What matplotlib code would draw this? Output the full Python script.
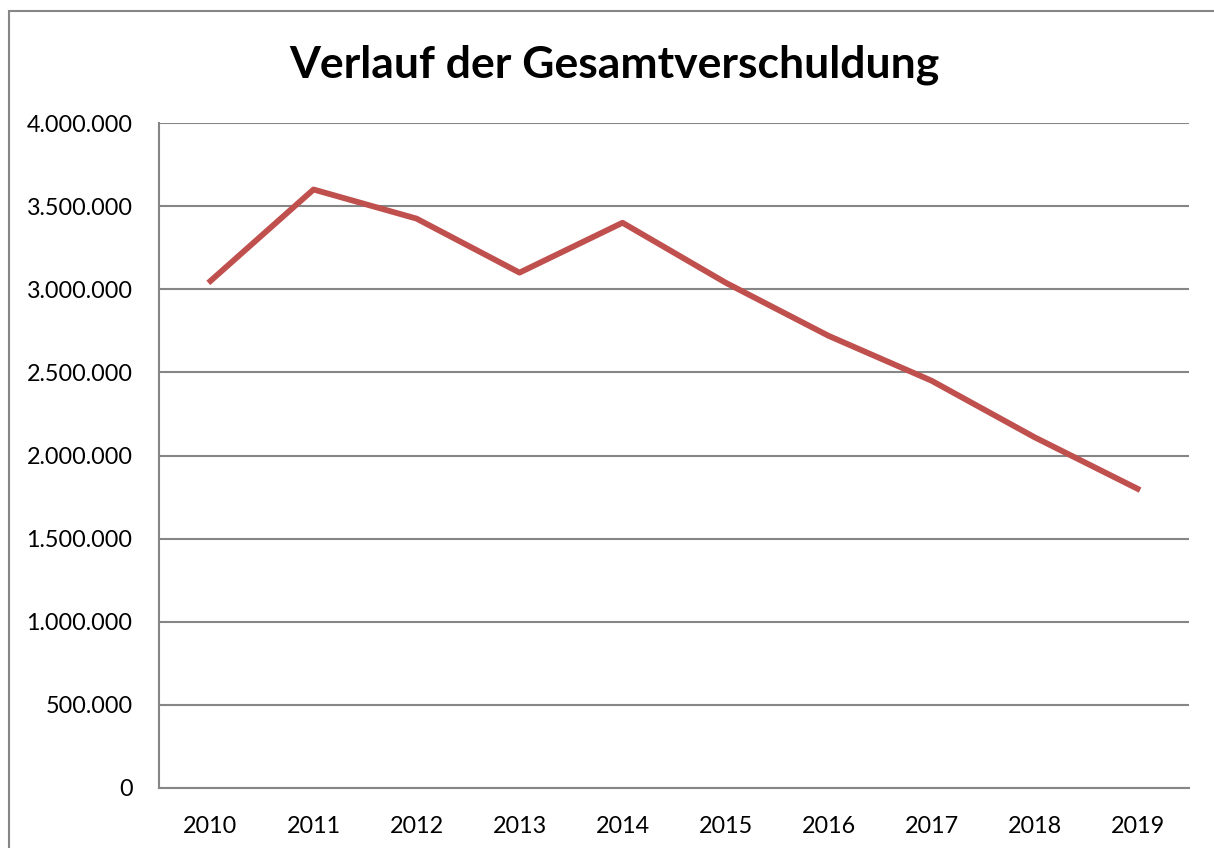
import matplotlib.pyplot as plt
from matplotlib.patches import Rectangle
from matplotlib.ticker import FuncFormatter

# Daten
jahre = ['2010', '2011', '2012', '2013', '2014', '2015', '2016', '2017', '2018', '2019']
schulden = [3050000, 3600000, 3425000, 3100000, 3400000, 3040000, 2720000, 2450000, 2110000, 1800000]
y_ticks = [0, 500000, 1000000, 1500000, 2000000, 2500000, 3000000, 3500000, 4000000]

plt.rcParams['font.family'] = ['Lato', 'DejaVu Sans']

fig = plt.figure(figsize=(12.14, 8.48), dpi=100)
ax = fig.add_axes([159 / 1214, 1 - 788 / 848, (1189 - 159) / 1214, (788 - 123) / 848])

# Rahmen um das Diagramm
fig.patches.append(Rectangle((9 / 1214, -0.1), 1.2, 1.1 - 11 / 848, transform=fig.transFigure,
                             fill=False, edgecolor='#868686', linewidth=1.5))

x = list(range(len(jahre)))
ax.plot(x, schulden, color='#C0504D', linewidth=4.2, solid_joinstyle='round')

ax.set_xlim(-0.5, len(jahre) - 0.5)
ax.set_ylim(0, 4000000)
ax.set_xticks(x)
ax.set_xticklabels(jahre)
ax.set_yticks(y_ticks)
ax.yaxis.set_major_formatter(FuncFormatter(lambda v, p: f'{int(v):,}'.replace(',', '.')))

ax.grid(axis='y', color='#868686', linewidth=1.5)
ax.set_axisbelow(True)
for s in ['top', 'right']:
    ax.spines[s].set_visible(False)
for s in ['left', 'bottom']:
    ax.spines[s].set_color('#868686')
    ax.spines[s].set_linewidth(1.5)
ax.tick_params(length=0, labelsize=16.8)
ax.tick_params(axis='y', pad=19)
ax.tick_params(axis='x', pad=20)

fig.text(614 / 1214, 1 - 65 / 848, 'Verlauf der Gesamtverschuldung', ha='center', va='center',
         fontsize=32, fontweight='bold')

fig.savefig('out.png', dpi=100)
